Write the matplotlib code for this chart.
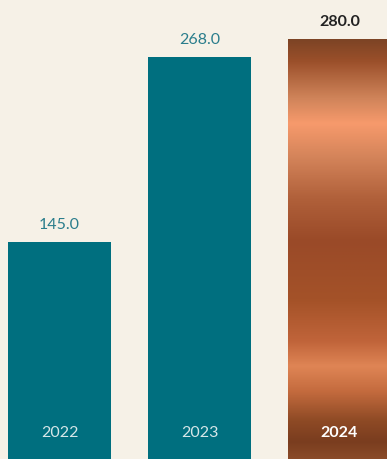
import numpy as np
import matplotlib.pyplot as plt
from matplotlib.colors import LinearSegmentedColormap

years = ['2022', '2023', '2024']
values = [145.0, 268.0, 280.0]

bg = '#f6f1e7'
teal = '#006f7f'

# copper gradient for the highlighted bar (top -> bottom)
copper_stops = [
    (0.00, '#7d4425'), (0.05, '#9a4f2a'), (0.14, '#d0845a'), (0.20, '#f79a6c'),
    (0.28, '#d4845a'), (0.38, '#b0603a'), (0.48, '#9a4a28'), (0.62, '#a45228'),
    (0.72, '#c0643a'), (0.78, '#df8555'), (0.84, '#c46b3e'), (0.91, '#8e4a25'),
    (0.96, '#7a3d1f'), (1.00, '#8a4a28'),
]
copper = LinearSegmentedColormap.from_list('copper_bar', copper_stops)

fig = plt.figure(figsize=(3.87, 4.6), dpi=100, facecolor=bg)
ax = fig.add_axes([0, 0, 1, 1])
ax.set_facecolor(bg)

x = np.arange(len(years))
width = 0.736
bars = ax.bar(x[:2], values[:2], width=width, color=teal, zorder=2)

# gradient bar
g = np.linspace(0, 1, 256).reshape(-1, 1)
ax.imshow(g, cmap=copper, aspect='auto', zorder=2,
          extent=[x[2] - width / 2, x[2] + width / 2, 0, values[2]])

ax.set_xlim(-0.425, 2.339)
ax.set_ylim(0, 306.67)
ax.axis('off')

font = 'Lato'
for i, (yr, v) in enumerate(zip(years, values)):
    last = i == len(years) - 1
    ax.text(x[i], v + 12, f'{v:.1f}', ha='center', va='center', fontsize=11.5,
            family=font, color='#222222' if last else '#2a7d8c',
            fontweight='bold' if last else 'normal')
    ax.text(x[i], 18, yr, ha='center', va='center', fontsize=11.5, family=font,
            color='white' if last else '#d6e6e8',
            fontweight='bold' if last else 'normal')

fig.savefig('out.png', dpi=100, facecolor=bg)
